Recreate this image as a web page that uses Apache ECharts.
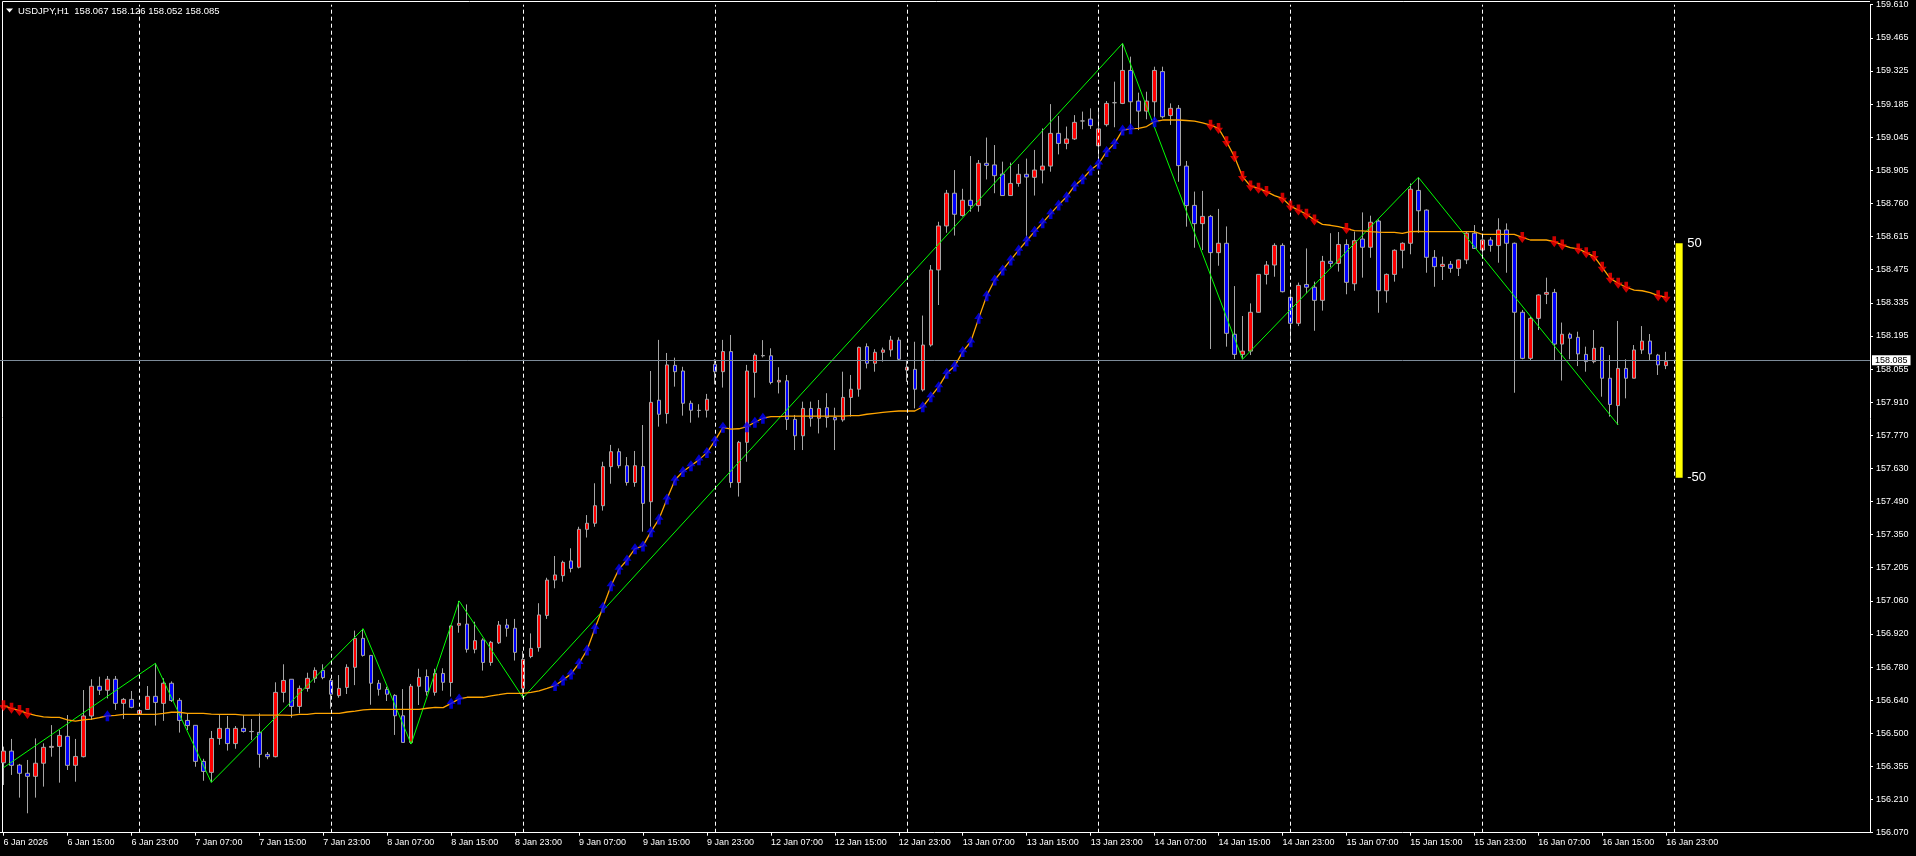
<!DOCTYPE html>
<html><head><meta charset="utf-8">
<script src="https://cdn.jsdelivr.net/npm/echarts@6/dist/echarts.min.js"></script>
<style>html,body{margin:0;padding:0;background:#000;overflow:hidden}#c{width:1916px;height:856px;}</style>
</head><body><div id="c"></div>
<script>
const symbolName = 'USDJPY', timeframe = 'H1';
const open = [
156.369,156.419,156.359,156.324,156.311,156.367,156.435,156.439,156.482,156.358,
156.395,156.569,156.696,156.679,156.726,156.623,156.640,156.579,156.597,156.653,
156.623,156.709,156.636,156.550,156.529,156.375,156.328,156.473,156.516,156.451,
156.516,156.503,156.499,156.405,156.395,156.670,156.726,156.610,156.687,156.730,
156.764,156.721,156.656,156.691,156.777,156.901,156.828,156.709,156.683,156.657,
156.570,156.456,156.696,156.738,156.670,156.751,156.712,156.957,156.962,156.854,
156.894,156.798,156.882,156.958,156.944,156.687,156.823,156.861,156.999,157.150,
157.169,157.232,157.205,157.367,157.393,157.468,157.635,157.699,157.639,157.567,
157.636,157.485,157.919,157.862,158.068,158.044,157.906,157.876,157.876,158.072,
158.041,158.127,157.567,157.739,158.038,158.109,158.109,157.997,158.002,157.837,
157.767,157.884,157.842,157.887,157.845,157.835,157.931,157.966,158.148,158.077,
158.124,158.134,158.176,158.048,158.051,157.963,158.155,158.476,158.664,158.804,
158.709,158.774,158.751,158.932,158.925,158.886,158.794,158.846,158.885,158.872,
158.903,158.920,159.060,159.017,159.036,159.113,159.121,159.007,159.097,159.191,
159.188,159.329,159.198,159.155,159.195,159.324,159.136,159.167,158.920,158.752,
158.674,158.705,158.550,158.590,158.201,158.115,158.129,158.295,158.457,158.497,
158.581,158.359,158.248,158.414,158.402,158.346,158.513,158.504,158.585,158.417,
158.608,158.573,158.685,158.387,158.457,158.560,158.590,158.816,158.732,158.530,
158.491,158.500,158.483,158.519,158.633,158.561,158.604,158.580,158.647,158.590,
158.295,158.098,158.269,158.372,158.380,158.159,158.201,158.188,158.115,158.084,
158.145,158.013,157.896,158.055,158.013,158.134,158.172,158.112,158.067];
const high = [
156.438,156.471,156.364,156.381,156.473,156.452,156.530,156.509,156.573,156.471,
156.680,156.726,156.737,156.740,156.740,156.646,156.676,156.597,156.697,156.794,
156.730,156.717,156.646,156.580,156.529,156.386,156.505,156.573,156.569,156.526,
156.572,156.556,156.580,156.415,156.713,156.790,156.726,156.699,156.754,156.777,
156.790,156.730,156.744,156.790,156.934,156.942,156.830,156.723,156.694,156.662,
156.684,156.706,156.771,156.768,156.771,156.773,156.958,157.061,157.046,156.972,
156.901,156.890,156.975,156.984,156.984,156.847,156.922,157.051,157.160,157.253,
157.233,157.286,157.378,157.428,157.564,157.656,157.728,157.713,157.676,157.702,
157.813,158.044,158.177,158.121,158.101,158.062,157.917,157.902,157.946,158.094,
158.177,158.198,157.745,158.070,158.120,158.176,158.141,158.060,158.027,157.856,
157.913,157.913,157.920,157.949,157.887,158.041,158.027,158.148,158.162,158.137,
158.144,158.194,158.188,158.091,158.169,158.281,158.497,158.682,158.818,158.903,
158.823,158.963,158.946,159.042,159.010,158.939,158.935,158.929,158.952,158.989,
159.081,159.185,159.134,159.089,159.138,159.153,159.167,159.164,159.198,159.281,
159.445,159.388,159.234,159.238,159.345,159.345,159.188,159.181,158.942,158.811,
158.814,158.711,158.737,158.662,158.407,158.279,158.333,158.457,158.514,158.590,
158.590,158.390,158.422,158.568,158.426,158.536,158.633,158.638,158.607,158.640,
158.722,158.708,158.692,158.461,158.564,158.594,158.846,158.872,158.735,158.561,
158.533,158.514,158.521,158.640,158.668,158.616,158.616,158.697,158.675,158.593,
158.305,158.276,158.372,158.443,158.395,158.251,158.208,158.212,158.148,158.219,
158.148,158.112,158.258,158.094,158.155,158.236,158.202,158.117,158.126];
const low = [
156.274,156.317,156.220,156.153,156.220,156.267,156.395,156.284,156.338,156.288,
156.392,156.552,156.659,156.644,156.595,156.556,156.602,156.573,156.595,156.528,
156.548,156.629,156.498,156.509,156.352,156.292,156.285,156.446,156.421,156.429,
156.498,156.466,156.348,156.384,156.392,156.627,156.562,156.580,156.673,156.711,
156.726,156.600,156.647,156.663,156.701,156.823,156.617,156.656,156.633,156.488,
156.456,156.449,156.616,156.656,156.656,156.677,156.652,156.925,156.840,156.837,
156.763,156.784,156.877,156.908,156.806,156.647,156.816,156.844,156.984,157.115,
157.143,157.183,157.200,157.332,157.378,157.447,157.562,157.628,157.554,157.549,
157.357,157.378,157.806,157.819,157.977,157.853,157.823,157.845,157.845,157.987,
157.973,157.545,157.507,157.656,157.930,158.102,157.987,157.948,157.792,157.706,
157.706,157.806,157.777,157.802,157.706,157.827,157.849,157.934,158.055,158.041,
158.084,158.105,158.088,157.998,157.884,157.956,158.148,158.326,158.635,158.623,
158.704,158.725,158.725,158.863,158.804,158.794,158.794,158.832,158.611,158.794,
158.846,158.896,158.970,158.992,159.032,159.077,159.079,158.939,159.089,159.086,
159.185,159.074,159.074,159.120,159.117,159.124,159.096,158.853,158.661,158.571,
158.561,158.138,158.494,158.148,158.095,158.094,158.112,158.293,158.414,158.447,
158.380,158.179,158.236,158.376,158.216,158.302,158.487,158.469,158.372,158.387,
158.443,158.528,158.293,158.336,158.426,158.483,158.543,158.635,158.464,158.404,
158.433,158.464,158.450,158.501,158.566,158.540,158.554,158.507,158.464,157.951,
158.094,158.088,158.219,158.330,158.088,158.003,158.094,158.065,158.041,158.077,
157.934,157.849,157.813,157.927,158.013,158.117,158.091,158.027,158.052];
const close = [
156.419,156.358,156.324,156.311,156.367,156.435,156.439,156.486,156.358,156.396,
156.569,156.696,156.679,156.726,156.623,156.640,156.606,156.592,156.653,156.627,
156.709,156.635,156.550,156.528,156.375,156.332,156.473,156.516,156.451,156.516,
156.503,156.502,156.405,156.395,156.670,156.721,156.610,156.687,156.730,156.764,
156.733,156.662,156.687,156.777,156.901,156.828,156.709,156.683,156.662,156.570,
156.456,156.696,156.734,156.673,156.751,156.713,156.954,156.965,156.854,156.891,
156.798,156.884,156.958,156.944,156.841,156.811,156.858,157.001,157.150,157.172,
157.226,157.200,157.367,157.393,157.468,157.635,157.699,157.639,157.567,157.639,
157.478,157.910,157.859,158.070,158.041,157.906,157.876,157.875,157.923,158.041,
158.127,157.567,157.739,158.044,158.112,158.110,157.995,158.004,157.837,157.767,
157.884,157.842,157.884,157.845,157.835,157.931,157.966,158.145,158.077,158.124,
158.134,158.176,158.094,158.060,157.966,158.155,158.476,158.664,158.804,158.714,
158.774,158.751,158.932,158.923,158.879,158.794,158.846,158.885,158.873,158.903,
158.920,159.060,159.017,159.036,159.107,159.113,159.093,159.079,159.188,159.191,
159.329,159.195,159.155,159.198,159.329,159.131,159.167,158.922,158.751,158.674,
158.705,158.550,158.590,158.205,158.115,158.129,158.295,158.457,158.497,158.581,
158.383,158.248,158.410,158.402,158.346,158.513,158.504,158.585,158.423,158.601,
158.573,158.680,158.387,158.457,158.560,158.590,158.821,158.729,158.530,158.490,
158.500,158.483,158.519,158.633,158.568,158.604,158.581,158.647,158.590,158.295,
158.098,158.269,158.369,158.380,158.159,158.201,158.184,158.117,158.084,158.141,
158.013,157.901,158.055,158.013,158.134,158.172,158.117,158.070,158.085];
const ma = [
156.613,156.602,156.592,156.580,156.572,156.565,156.563,156.563,156.552,156.547,
156.552,156.556,156.562,156.570,156.572,156.576,156.576,156.576,156.576,156.576,
156.580,156.585,156.585,156.580,156.580,156.580,156.577,156.576,156.576,156.576,
156.573,156.573,156.573,156.573,156.573,156.573,156.572,156.576,156.576,156.580,
156.580,156.580,156.580,156.586,156.590,156.595,156.597,156.597,156.597,156.597,
156.597,156.597,156.597,156.602,156.606,156.605,156.623,156.642,156.649,156.649,
156.649,156.655,156.660,156.666,156.666,156.666,156.670,156.676,156.687,156.699,
156.723,156.749,156.794,156.851,156.944,157.034,157.126,157.197,157.236,157.284,
157.296,157.357,157.411,157.497,157.578,157.614,157.639,157.664,157.695,157.746,
157.803,157.795,157.797,157.806,157.825,157.842,157.849,157.849,157.851,157.851,
157.851,157.851,157.851,157.851,157.851,157.851,157.853,157.853,157.859,157.863,
157.867,157.870,157.873,157.873,157.873,157.891,157.934,157.977,158.034,158.065,
158.127,158.169,158.269,158.366,158.433,158.476,158.519,158.561,158.601,158.641,
158.678,158.717,158.754,158.789,158.836,158.866,158.903,158.930,158.982,159.017,
159.074,159.080,159.081,159.089,159.110,159.117,159.117,159.117,159.115,159.112,
159.105,159.095,159.081,159.024,158.960,158.875,158.835,158.825,158.811,158.794,
158.782,158.749,158.732,158.714,158.690,158.671,158.667,158.661,158.653,158.644,
158.643,158.640,158.638,158.637,158.637,158.632,158.640,158.641,158.640,158.640,
158.640,158.640,158.640,158.640,158.640,158.628,158.628,158.628,158.628,158.628,
158.615,158.604,158.604,158.604,158.597,158.583,158.571,158.566,158.550,158.533,
158.487,158.440,158.419,158.402,158.390,158.387,158.379,158.366,158.359];
const zigzagIdx = [0, 19, 26, 45, 51, 57, 65, 140, 155, 177, 202];
const zigzagVal = [156.348, 156.794, 156.285, 156.942, 156.449, 157.061, 156.647, 159.445, 158.094, 158.872, 157.813];
const upArrowIdx = [13, 56, 57, 69, 70, 71, 72, 73, 74, 75, 76, 77, 78, 79, 80, 81, 82, 83, 84, 85, 86, 87, 88, 89, 90,
  93, 94, 95, 115, 116, 117, 118, 119, 120, 121, 122, 123, 124, 125, 126, 127, 128, 129, 130, 131, 132, 133, 134, 135,
  136, 137, 138, 139, 140, 141, 144];
const downArrowIdx = [0, 1, 2, 3, 151, 152, 153, 154, 155, 156, 157, 158, 160, 161, 162, 163, 164, 168,
  190, 194, 195, 197, 198, 199, 200, 201, 202, 203, 207, 208];
const yTickLabels = ['156.070','156.210','156.355','156.500','156.640','156.780','156.920','157.060','157.205','157.350',
  '157.490','157.630','157.770','157.910','158.055','158.195','158.335','158.475','158.615','158.760','158.905','159.045',
  '159.185','159.325','159.465','159.610'];
const priceMin = 156.07, priceMax = 159.61;
const gaugeTop = 158.590, gaugeBottom = 157.588;
const gaugeLabels = ['50', '-50'];

const FONT = 'Liberation Sans, Arial, sans-serif';
const totalSlots = 234;
const MONTHS = ['Jan','Feb','Mar','Apr','May','Jun','Jul','Aug','Sep','Oct','Nov','Dec'];
const times = [];
let t = Date.UTC(2026, 0, 6, 7);
while (times.length < totalSlots) {
  const d = new Date(t); const wd = d.getUTCDay();
  if (wd !== 0 && wd !== 6) times.push(d);
  t += 3600000;
}
const nBars = open.length;
const categories = times.map((d, i) => {
  if (i === 0) return d.getUTCDate() + ' ' + MONTHS[d.getUTCMonth()] + ' ' + d.getUTCFullYear();
  return d.getUTCDate() + ' ' + MONTHS[d.getUTCMonth()] + ' ' + String(d.getUTCHours()).padStart(2, '0') + ':00';
});
const separators = [];
for (let i = 1; i <= nBars; i++) if (times[i].getUTCHours() === 0) separators.push(i);
const lastIdx = nBars - 1;
const lastPrice = close[lastIdx];

const candleData = open.map((o, i) => [o, close[i], low[i], high[i]]);
const labelInterval = (idx) => idx < nBars && idx % 8 === 0;

const chart = echarts.init(document.getElementById('c'), null, {renderer: 'canvas'});
const arrowUp = 'path://M5,0 L10,5.6 L7,5.6 L7,10 L3,10 L3,5.6 L0,5.6 Z';
const arrowDown = 'path://M3,0 L7,0 L7,4.4 L10,4.4 L5,10 L0,4.4 L3,4.4 Z';

chart.setOption({
  animation: false,
  backgroundColor: '#000000',
  grid: {left: -0.5, right: 46, top: 4.7, bottom: 23.3, containLabel: false, outerBoundsMode: 'none'},
  xAxis: {
    type: 'category', data: categories, boundaryGap: true,
    axisLine: {show: true, lineStyle: {color: '#ffffff', width: 1}},
    axisTick: {show: true, alignWithLabel: true, interval: labelInterval, length: 3, lineStyle: {color: '#ffffff'}},
    axisLabel: {show: true, interval: labelInterval, align: 'left', margin: 5, color: '#ffffff', fontSize: 9, fontFamily: FONT},
    splitLine: {show: false}
  },
  yAxis: [
    {type: 'value', min: priceMin, max: priceMax, position: 'left', show: false, splitLine: {show: false}, scale: true},
    {type: 'value', min: 0, max: yTickLabels.length - 1, interval: 1, position: 'right',
      axisLine: {show: true, lineStyle: {color: '#ffffff', width: 1}},
      axisTick: {show: true, length: 3, lineStyle: {color: '#ffffff'}},
      axisLabel: {show: true, margin: 6, color: '#ffffff', fontSize: 9, fontFamily: FONT,
        formatter: (v) => yTickLabels[Math.round(v)] || ''},
      splitLine: {show: false}}
  ],
  graphic: [
    {type: 'line', shape: {x1: 2.5, y1: 1.5, x2: 1870, y2: 1.5}, style: {stroke: '#ffffff', lineWidth: 1}, silent: true},
    {type: 'line', shape: {x1: 2.5, y1: 1.5, x2: 2.5, y2: 833}, style: {stroke: '#ffffff', lineWidth: 1}, silent: true},
    {type: 'polygon', shape: {points: [[6, 8.5], [13, 8.5], [9.5, 12.5]]}, style: {fill: '#ffffff'}, silent: true, z: 10},
    {type: 'text', left: 18, top: 6, z: 10, silent: true,
      style: {text: symbolName + ',' + timeframe + '  ' + [open[lastIdx], high[lastIdx], low[lastIdx], close[lastIdx]].map(v => v.toFixed(3)).join(' '),
        fill: '#ffffff', fontSize: 9.5, fontFamily: FONT}}
  ],
  series: [
    {
      type: 'candlestick', name: 'price', data: candleData, barWidth: 4, z: 2,
      itemStyle: {color: '#ff0000', color0: '#0000ff', borderColor: '#a6a6a6', borderColor0: '#a6a6a6', borderColorDoji: '#a6a6a6', borderWidth: 1},
      markLine: {
        silent: true, symbol: ['none', 'none'], animation: false,
        data: separators.map(i => ({xAxis: i, lineStyle: {color: '#ffffff', type: [4, 3], width: 1}, label: {show: false}}))
          .concat([{yAxis: lastPrice, lineStyle: {color: '#7d8b99', type: 'solid', width: 1},
            label: {show: true, position: 'end', distance: 2, formatter: lastPrice.toFixed(3), color: '#000000',
              backgroundColor: '#ffffff', padding: [1, 3, 0, 3], fontSize: 9, fontFamily: FONT}}])
      }
    },
    {
      type: 'line', name: 'ma', data: ma, showSymbol: false, symbol: 'none', z: 4,
      lineStyle: {color: '#ffa500', width: 1.3}, silent: true
    },
    {
      type: 'line', name: 'zigzag', data: zigzagIdx.map((i, k) => [i, zigzagVal[k]]), showSymbol: false, symbol: 'none', z: 3,
      lineStyle: {color: '#00ff00', width: 1}, silent: true
    },
    {
      type: 'scatter', name: 'up', data: upArrowIdx.map(i => [i, ma[i]]), symbol: arrowUp, symbolSize: [9, 11], z: 5,
      itemStyle: {color: '#0000ff'}, silent: true
    },
    {
      type: 'scatter', name: 'down', data: downArrowIdx.map(i => [i, ma[i]]), symbol: arrowDown, symbolSize: [9, 11], z: 5,
      itemStyle: {color: '#ff0000'}, silent: true
    },
    {
      type: 'custom', name: 'gauge', data: [[nBars, gaugeTop, gaugeBottom]], z: 6, silent: true,
      encode: {x: 0, y: [1, 2]},
      renderItem: (params, api) => {
        const top = api.coord([api.value(0), api.value(1)]);
        const bot = api.coord([api.value(0), api.value(2)]);
        return {type: 'group', children: [
          {type: 'rect', shape: {x: top[0] + 1.5, y: top[1], width: 7, height: bot[1] - top[1]}, style: {fill: '#ffff00'}},
          {type: 'text', style: {text: gaugeLabels[0], x: top[0] + 13, y: top[1], fill: '#ffffff', fontSize: 13, fontFamily: FONT, verticalAlign: 'middle'}},
          {type: 'text', style: {text: gaugeLabels[1], x: top[0] + 13, y: bot[1], fill: '#ffffff', fontSize: 13, fontFamily: FONT, verticalAlign: 'middle'}}
        ]};
      }
    }
  ]
});
</script></body></html>
